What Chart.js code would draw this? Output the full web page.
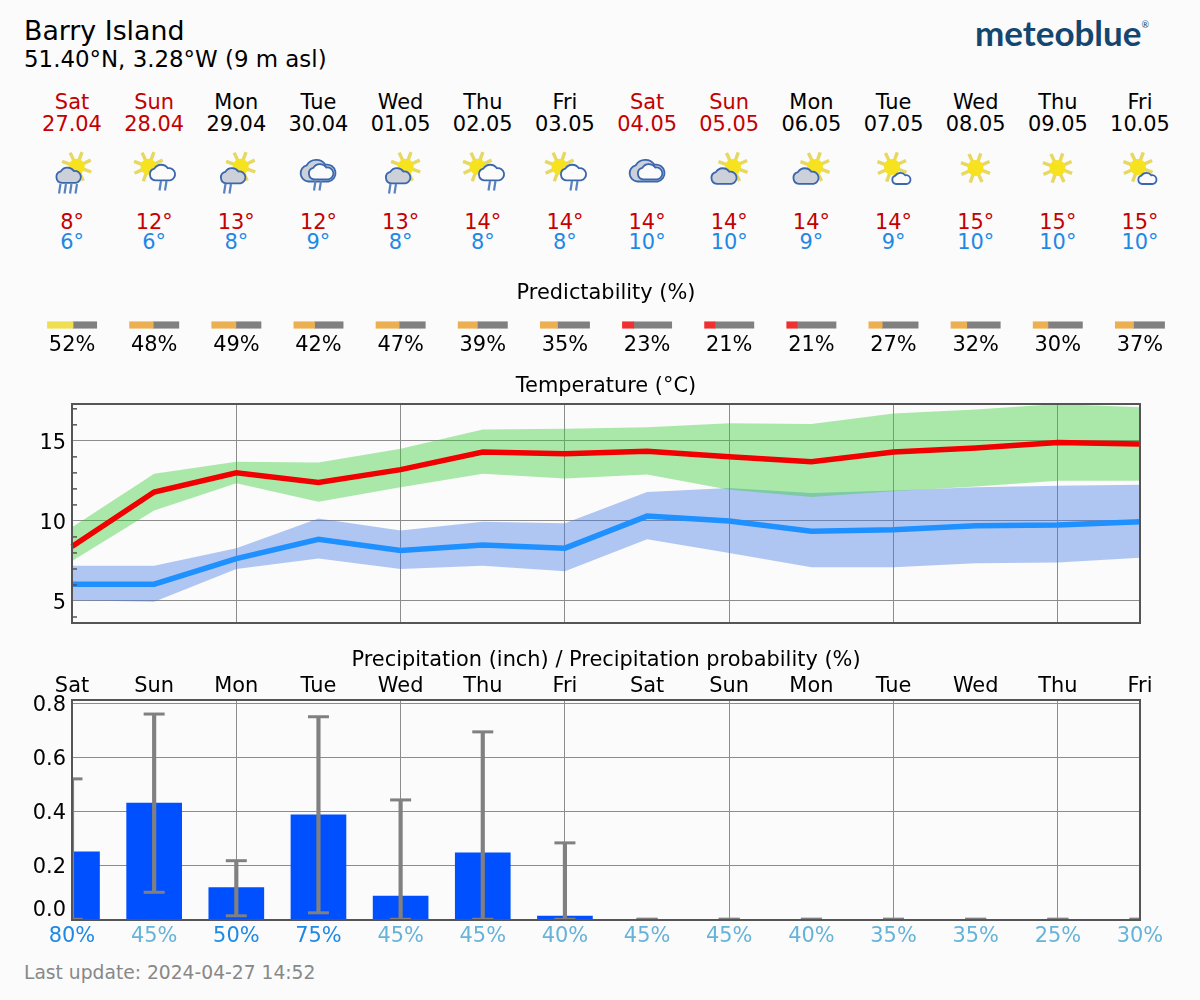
<!DOCTYPE html>
<html>
<head>
<meta charset="UTF-8">
<title>Barry Island forecast</title>
<script src="https://cdn.jsdelivr.net/npm/chart.js@4"></script>
<style>
  html, body { margin: 0; padding: 0; background: #fbfbfb; }
  body { width: 1200px; height: 1000px; position: relative; overflow: hidden; font-family: "DejaVu Sans", sans-serif; color: #000; }
  canvas { position: absolute; left: 0; }
  .t { position: absolute; white-space: nowrap; line-height: 1; font-size: 20.9px; transform: translate(-50%, -50%); }
  .l { position: absolute; white-space: nowrap; line-height: 1; }
  svg { position: absolute; overflow: visible; }
</style>
</head>
<body>
<div class="l" style="left:24px;top:18px;font-size:26.8px">Barry Island</div>
<div class="l" style="left:24px;top:48px;font-size:22.9px">51.40°N, 3.28°W (9 m asl)</div>
<div class="l" style="left:975px;top:15px;font-family:Lato,sans-serif;font-weight:700;font-size:35px;color:#14466f">meteoblue<span style="font-size:9px;vertical-align:18px;font-weight:400">®</span></div>
<canvas id="predChart" width="1200" height="60" style="top:298px"></canvas>
<canvas id="tempChart" width="1200" height="240" style="top:395px"></canvas>
<canvas id="precChart" width="1200" height="290" style="top:665px"></canvas>
<div class="l" style="left:24px;top:964px;font-size:18.7px;color:#888">Last update: 2024-04-27 14:52</div>

<script>
const days = ['Sat','Sun','Mon','Tue','Wed','Thu','Fri','Sat','Sun','Mon','Tue','Wed','Thu','Fri'];
const dates = ['27.04','28.04','29.04','30.04','01.05','02.05','03.05','04.05','05.05','06.05','07.05','08.05','09.05','10.05'];
const icons = ['rain4','rainL','rainR','cloudsRain','rainR','rainL','rainL','clouds','sunR','sunR','sunSmall','sun','sun','sunSmall'];
const tMaxLabels = [8,12,13,12,13,14,14,14,14,14,14,15,15,15];
const tMinLabels = [6,6,8,9,8,8,8,10,10,9,9,10,10,10];
const predictability = [52,48,49,42,47,39,35,23,21,21,27,32,30,37];
const probability = [80,45,50,75,45,45,40,45,45,40,35,35,25,30];

const tempMax = [8.4,11.8,13.0,12.4,13.2,14.3,14.2,14.35,14.0,13.7,14.3,14.55,14.9,14.8];
const tempMaxHigh = [9.6,12.95,13.7,13.65,14.5,15.7,15.75,15.85,16.1,16.05,16.7,16.95,17.3,17.1];
const tempMaxLow = [7.5,10.65,12.35,11.2,12.1,12.95,12.65,12.9,11.95,11.5,11.85,12.15,12.5,12.5];
const tempMin = [6.05,6.05,7.65,8.85,8.15,8.5,8.3,10.3,10.0,9.35,9.45,9.7,9.75,9.95];
const tempMinHigh = [7.2,7.2,8.3,10.15,9.4,9.95,9.85,11.8,12.05,11.75,11.9,12.1,12.2,12.25];
const tempMinLow = [5.05,4.95,7.0,7.65,7.0,7.2,6.85,8.85,8.0,7.1,7.1,7.35,7.4,7.7];
const tempTicks = [4,5,6,7,8,9,10,11,12,13,14,15,16,17];

const precip = [0.25,0.43,0.117,0.387,0.086,0.246,0.012,0,0,0,0,0,0,0];
const precipHigh = [0.52,0.76,0.217,0.75,0.442,0.694,0.283,0,0,0,0,0,0,0];
const precipLow = [0,0.10,0.013,0.024,0,0,0,0,0,0,0,0,0,0];
const precipTicks = [0,0.2,0.4,0.6,0.8];

Chart.defaults.font.family = '"DejaVu Sans", sans-serif';
Chart.defaults.font.size = 20.9;
Chart.defaults.color = '#000';
Chart.defaults.animation = false;
Chart.defaults.responsive = false;
Chart.defaults.plugins.legend.display = false;
Chart.defaults.plugins.tooltip.enabled = false;

const GRID = '#8c8c8c';
const dayX = i => 72 + i * (1068 / 13);

function text(str, x, y, color) {
  const d = document.createElement('div');
  d.className = 't';
  d.textContent = str;
  d.style.left = x + 'px';
  d.style.top = y + 'px';
  if (color) d.style.color = color;
  document.body.appendChild(d);
}

// weather symbols, origin = 25px left of the day column, y=150
const CLOUD = 'M5.5 16A5.5 5.5 0 0 1 4.5 5.2A7.5 7.5 0 0 1 17 4.8A5.5 5.5 0 0 1 19 16Z';
function sun(cx, cy) {
  let s = '';
  for (let a = 0; a < 8; a++) {
    const r = (a * 45 + 20) * Math.PI / 180;
    s += `<line x1="${cx + 7 * Math.cos(r)}" y1="${cy + 7 * Math.sin(r)}" x2="${cx + 15.5 * Math.cos(r)}" y2="${cy + 15.5 * Math.sin(r)}" stroke="#e6d860" stroke-width="3.4"/>`;
  }
  return s + `<circle cx="${cx}" cy="${cy}" r="8" fill="#f6e21e"/>`;
}
function cloud(x, y, k, fill) {
  return `<path transform="translate(${x} ${y}) scale(${k})" d="${CLOUD}" fill="${fill}" stroke="#3a66ad" stroke-width="${1.8 / k}"/>`;
}
function rain(x, y, n) {
  let s = '';
  for (let i = 0; i < n; i++) s += `<line x1="${x + i * 5.5 + 1.5}" y1="${y}" x2="${x + i * 5.5}" y2="${y + 9.5}" stroke="#5b82c0" stroke-width="2.2"/>`;
  return s;
}
const iconDraw = {
  rain4: () => sun(29.7, 16.7) + cloud(9, 16, 1.05, '#ccd0d8') + rain(12, 34, 4),
  rainL: () => sun(19.6, 16.7) + cloud(20.5, 13, 1.08, '#fbfbfb') + rain(30.5, 31, 2),
  rainR: () => sun(29.7, 16.7) + cloud(9.5, 16.5, 1.05, '#ccd0d8') + rain(13, 34, 2),
  cloudsRain: () => cloud(7, 7.5, 1.5, '#ccd0d8') + cloud(15.5, 12.5, 1.05, '#fbfbfb') + rain(21, 31, 2),
  clouds: () => cloud(7, 7.5, 1.5, '#ccd0d8') + cloud(15.5, 12.5, 1.05, '#fbfbfb'),
  sunR: () => sun(29, 17) + cloud(7, 16.5, 1.08, '#ccd0d8'),
  sunSmall: () => sun(23, 17) + cloud(23, 21.5, 0.78, '#fbfbfb'),
  sun: () => sun(24.5, 18)
};

days.forEach((d, i) => {
  const x = dayX(i);
  const hdr = (d === 'Sat' || d === 'Sun') ? '#c40000' : '#000';
  text(d, x, 102, hdr);
  text(dates[i], x, 124, hdr);
  text(tMaxLabels[i] + '°', x, 222, '#c40000');
  text(tMinLabels[i] + '°', x, 242, '#1e88e5');
  const svg = document.createElementNS('http://www.w3.org/2000/svg', 'svg');
  svg.setAttribute('width', 50);
  svg.setAttribute('height', 50);
  svg.style.left = (x - 25) + 'px';
  svg.style.top = '150px';
  svg.innerHTML = iconDraw[icons[i]]();
  document.body.appendChild(svg);
});
text('Predictability (%)', 606, 292);
text('Temperature (°C)', 606, 385);
text('Precipitation (inch) / Precipitation probability (%)', 606, 659);

const frame = {
  id: 'frame',
  afterDraw(chart) {
    const a = chart.chartArea, c = chart.ctx;
    c.save();
    c.strokeStyle = '#555';
    c.lineWidth = 2;
    c.strokeRect(a.left, a.top, a.right - a.left, a.bottom - a.top);
    c.restore();
  }
};
const minorTicks = {
  id: 'minorTicks',
  afterDraw(chart) {
    const s = chart.scales.y, c = chart.ctx;
    c.save();
    c.strokeStyle = '#555';
    c.lineWidth = 1.5;
    tempTicks.filter(v => v % 5).forEach(v => {
      const y = s.getPixelForValue(v);
      c.beginPath();
      c.moveTo(s.right, y);
      c.lineTo(s.right + 5, y);
      c.stroke();
    });
    c.restore();
  }
};
// the y scales asked for room for their end labels, which shifted the plot area
function fixLeft(s) {
  s.width = 72;
  s.paddingTop = 0;
  s.paddingBottom = 0;
}

// predictability strips: x scale is in "day index" units
const predSets = [];
predictability.forEach((p, i) => {
  const start = i - 0.3, split = start + 0.6 * p / 100;
  const col = p >= 50 ? '#eede50' : p >= 25 ? '#ecb050' : '#f03030';
  predSets.push({ data: [[start, split]], backgroundColor: col, barThickness: 6.5, grouped: false });
  predSets.push({ data: [[split, i + 0.3]], backgroundColor: '#808080', barThickness: 6.5, grouped: false });
});
new Chart(document.getElementById('predChart'), {
  type: 'bar',
  data: { labels: ['p'], datasets: predSets },
  options: {
    indexAxis: 'y',
    layout: { autoPadding: false, padding: { left: 31, right: 19, top: 19, bottom: 7 } },
    scales: {
      y: { display: false },
      x: {
        type: 'linear', min: -0.5, max: 13.5,
        afterBuildTicks: s => { s.ticks = predictability.map((p, i) => ({ value: i })); },
        afterFit: s => { s.height = 18; },
        grid: { display: false, drawTicks: false },
        border: { display: false },
        ticks: { autoSkip: false, maxRotation: 0, padding: 0, callback: v => predictability[v] + '%' }
      }
    }
  }
});

new Chart(document.getElementById('tempChart'), {
  type: 'line',
  data: {
    labels: days,
    datasets: [
      { data: tempMax, borderColor: '#f00000', borderWidth: 5.5, pointRadius: 0, tension: 0, order: 1 },
      { data: tempMin, borderColor: '#1e90ff', borderWidth: 5.5, pointRadius: 0, tension: 0, order: 2 },
      { data: tempMaxHigh, borderWidth: 0, pointRadius: 0, fill: '+1', backgroundColor: 'rgba(50,205,50,0.4)', order: 3 },
      { data: tempMaxLow, borderWidth: 0, pointRadius: 0, order: 4 },
      { data: tempMinHigh, borderWidth: 0, pointRadius: 0, fill: '+1', backgroundColor: 'rgba(65,120,230,0.4)', order: 5 },
      { data: tempMinLow, borderWidth: 0, pointRadius: 0, order: 6 }
    ]
  },
  options: {
    layout: { autoPadding: false, padding: { top: 9, bottom: 12, right: 60 } },
    scales: {
      x: {
        offset: false,
        afterFit: s => { s.height = 0; },
        border: { display: false },
        grid: { drawTicks: false, color: c => (c.index && c.index % 2 === 0 ? GRID : 'transparent') },
        ticks: { display: false, autoSkip: false }
      },
      y: {
        min: 3.625, max: 17.3,
        afterBuildTicks: s => { s.ticks = tempTicks.map(v => ({ value: v })); },
        afterFit: fixLeft,
        border: { display: false },
        grid: { drawTicks: false, color: c => (c.tick && c.tick.value % 5 === 0 ? GRID : 'transparent') },
        ticks: { autoSkip: false, padding: 6, labelOffset: 3, callback: v => (v % 5 === 0 ? String(v) : '') }
      }
    }
  },
  plugins: [frame, minorTicks]
});

new Chart(document.getElementById('precChart'), {
  type: 'bar',
  data: {
    labels: days,
    datasets: [
      { data: precip, backgroundColor: '#0050ff', barThickness: 55, grouped: false, clip: 0, order: 3 },
      { data: precipLow.map((lo, i) => [lo, precipHigh[i]]), backgroundColor: '#808080', barThickness: 3.5, grouped: false, clip: 0, order: 2 },
      { type: 'line', data: precipHigh, showLine: false, clip: 0, pointStyle: 'line', pointRadius: 10.5, pointBorderWidth: 3, pointBorderColor: '#808080', order: 1 },
      { type: 'line', data: precipLow, showLine: false, clip: 0, pointStyle: 'line', pointRadius: 10.5, pointBorderWidth: 3, pointBorderColor: '#808080', order: 1 }
    ]
  },
  options: {
    layout: { autoPadding: false, padding: { right: 60 } },
    scales: {
      x: {
        position: 'top', offset: false,
        afterFit: s => { s.height = 35; },
        border: { display: false },
        grid: { offset: false, drawTicks: false, color: c => (c.index && c.index % 2 === 0 ? GRID : 'transparent') },
        ticks: { autoSkip: false, maxRotation: 0, padding: 1 }
      },
      x2: {
        type: 'category', position: 'bottom', offset: false,
        labels: probability.map(p => p + '%'),
        afterFit: s => { s.height = 35; },
        border: { display: false },
        grid: { display: false, drawTicks: false },
        ticks: {
          autoSkip: false, maxRotation: 0, padding: 4,
          color: c => (probability[c.index] >= 50 ? '#1e88e5' : '#66b3d9')
        }
      },
      y: {
        min: -0.0026, max: 0.812,
        afterBuildTicks: s => { s.ticks = precipTicks.map(v => ({ value: v })); },
        afterFit: fixLeft,
        border: { display: false },
        grid: { drawTicks: false, color: GRID },
        ticks: {
          autoSkip: false, padding: 6, labelOffset: 2.5,
          font: { size: 20.9, lineHeight: 1.1 },
          callback: v => (v === 0 ? ['0.0', ''] : v.toFixed(1))
        }
      }
    }
  },
  plugins: [frame]
});
</script>
</body>
</html>
